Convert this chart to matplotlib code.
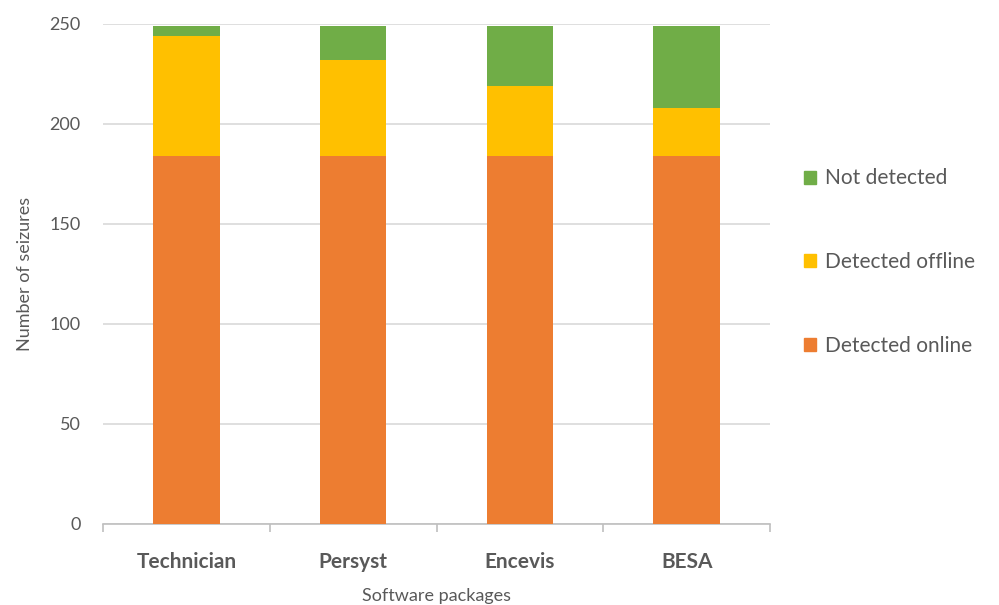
import numpy as np
import matplotlib.pyplot as plt
from matplotlib.patches import Patch

plt.rcParams['font.family'] = ['Lato', 'DejaVu Sans']

# ---- data ----
packages = ['Technician', 'Persyst', 'Encevis', 'BESA']
detected_online = [184, 184, 184, 184]
detected_offline = [60, 48, 35, 24]
not_detected = [5, 17, 30, 41]

c_online = '#ED7D31'
c_offline = '#FFC000'
c_not = '#70AD47'
txt = '#595959'

fig = plt.figure(figsize=(9.99, 6.05), dpi=100)
ax = fig.add_axes([103/999, 1 - 524/605, 667/999, 500/605])

x = np.arange(len(packages))
w = 0.4
online = np.array(detected_online)
offline = np.array(detected_offline)
notd = np.array(not_detected)
ax.bar(x, online, w, color=c_online, zorder=3)
ax.bar(x, offline, w, bottom=online, color=c_offline, zorder=3)
ax.bar(x, notd, w, bottom=online + offline, color=c_not, zorder=3)

ax.set_xlim(-0.5, len(packages) - 0.5)
ax.set_ylim(0, 250)
ax.set_yticks(np.arange(0, 251, 50))
ax.yaxis.grid(True, color='#D9D9D9', linewidth=1.2, zorder=0)
ax.set_axisbelow(True)
for s in ['top', 'right', 'left']:
    ax.spines[s].set_visible(False)
ax.spines['bottom'].set_color('#BFBFBF')
ax.spines['bottom'].set_linewidth(1.2)

ax.set_xticks(x)
ax.set_xticklabels(packages, fontsize=15, fontweight='bold', color=txt)
ax.tick_params(axis='x', length=0, pad=20)
ax.set_xticks(np.arange(-0.5, len(packages), 1), minor=True)
ax.tick_params(axis='x', which='minor', length=6, color='#BFBFBF', width=1.2)
ax.tick_params(axis='y', length=0, labelsize=13, labelcolor=txt, pad=16)

ax.set_xlabel('Software packages', fontsize=13, color=txt, labelpad=12)
ax.set_ylabel('Number of seizures', fontsize=13, color=txt, labelpad=12)

handles = [Patch(color=c_not, label='Not detected'),
           Patch(color=c_offline, label='Detected offline'),
           Patch(color=c_online, label='Detected online')]
fig.legend(handles=handles, loc='center left', bbox_to_anchor=(785/999, 1 - 262/605),
           frameon=False, fontsize=15, labelcolor=txt, handlelength=0.6, handleheight=0.6,
           handletextpad=0.4, labelspacing=3.05)

fig.savefig('out.png', dpi=100)
